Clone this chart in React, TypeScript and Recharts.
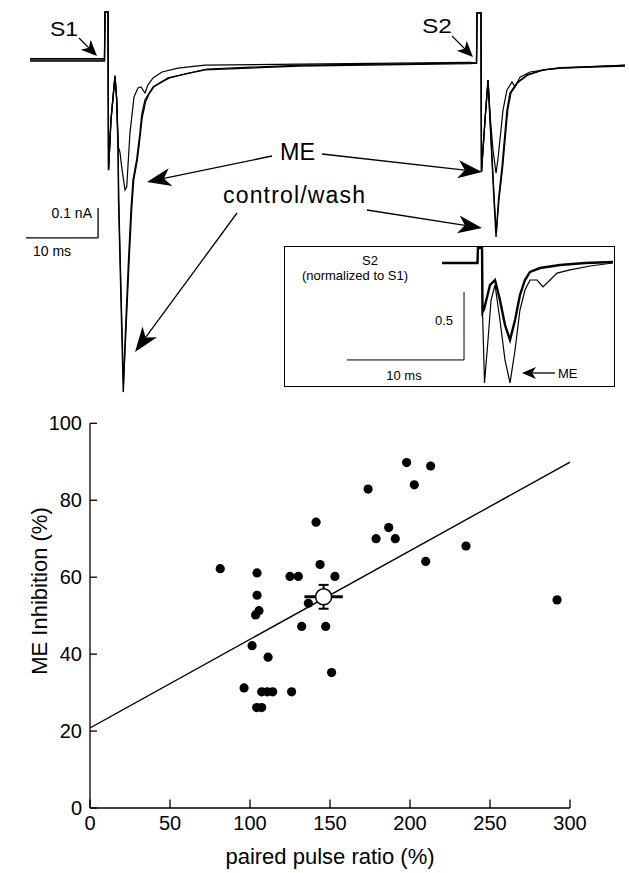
import React from 'react';
import { LineChart, Line, XAxis, YAxis, ReferenceLine, ScatterChart, Scatter, ErrorBar } from 'recharts';

const FONT = "'Liberation Sans', Arial, Helvetica, sans-serif";

// ---- whole-cell current traces, S1 at t = 0 (ms, nA) ----
const controlBase = [[-10.56, 0], [-0.21, 0]];
const washBase = [[-10.56, -0.004], [-0.21, -0.004]];
const meBase = [[-10.56, 0.005], [-0.21, 0.005]];
const s1Artifact = [[-0.14, 0.16], [0.28, 0.16], [0.35, -0.367], [0.69, -0.2], [1.25, -0.053]];
const s2Artifact = [
  [51.46, -0.01], [51.53, 0.157], [52.08, 0.157], [52.15, -0.373], [52.64, -0.2], [53.06, -0.067],
];
const controlS1 = [
  [1.49, -0.133], [1.67, -0.3], [1.74, -0.467], [2.08, -0.8], [2.4, -1.107], [2.71, -0.9], [3.13, -0.667],
  [3.47, -0.5], [3.75, -0.4], [4.26, -0.333], [4.72, -0.243], [4.96, -0.183], [5.42, -0.133], [5.83, -0.117],
  [6.53, -0.09], [8.61, -0.06], [10.97, -0.047], [13.75, -0.033], [26.94, -0.02], [50.56, -0.012],
];
const controlS2 = [
  [53.47, -0.267], [53.89, -0.467], [54.17, -0.59], [54.51, -0.467], [55.0, -0.357], [55.69, -0.167],
  [56.11, -0.11], [57.08, -0.077], [58.47, -0.05], [60.69, -0.033], [63.06, -0.027], [72.08, -0.02],
];
const washS1 = [
  [1.49, -0.133], [1.69, -0.3], [1.78, -0.467], [2.12, -0.8], [2.43, -1.08], [2.78, -0.9], [3.22, -0.667],
  [3.57, -0.5], [3.86, -0.4], [4.36, -0.333], [4.8, -0.243], [5.05, -0.19], [5.5, -0.14], [5.95, -0.115],
  [6.7, -0.088], [8.8, -0.06], [11.2, -0.045], [14.0, -0.03], [27.0, -0.017], [50.56, -0.01],
];
const washS2 = [
  [53.5, -0.267], [53.93, -0.467], [54.22, -0.575], [54.58, -0.467], [55.1, -0.357], [55.8, -0.167],
  [56.25, -0.11], [57.2, -0.075], [58.6, -0.05], [60.8, -0.033], [63.1, -0.025], [72.08, -0.018],
];
const meS1 = [
  [1.49, -0.133], [1.71, -0.29], [1.94, -0.307], [2.18, -0.357], [2.64, -0.433], [2.88, -0.423], [3.1, -0.333],
  [3.33, -0.243], [3.89, -0.123], [4.44, -0.093], [4.86, -0.09], [5.42, -0.11], [5.83, -0.083], [6.53, -0.06],
  [7.78, -0.04], [10.0, -0.027], [13.75, -0.017], [26.94, -0.014], [50.56, -0.008],
];
const meS2 = [
  [53.4, -0.2], [53.75, -0.3], [54.17, -0.377], [54.44, -0.33], [55.14, -0.167], [55.69, -0.1], [56.39, -0.073],
  [56.81, -0.09], [57.5, -0.057], [58.89, -0.04], [60.97, -0.033], [63.06, -0.027], [72.08, -0.017],
];

// ---- inset: S2 normalized to S1 ----
const insetHead = [[-3.16, 0], [-0.13, 0], [-0.09, 0.11], [0.26, 0.11], [0.3, -0.36]];
const insetControl = [
  [0.43, -0.34], [0.94, -0.162], [1.37, -0.125], [1.79, -0.272], [2.22, -0.456], [2.65, -0.566], [3.08, -0.419],
  [3.5, -0.235], [3.93, -0.125], [4.36, -0.066], [5.21, -0.037], [6.92, -0.015], [9.06, 0], [11.45, 0.007],
];
const insetMe = [
  [0.47, -0.882], [0.77, -0.566], [1.03, -0.272], [1.37, -0.162], [1.79, -0.419], [2.22, -0.713], [2.65, -0.882],
  [3.08, -0.64], [3.5, -0.346], [3.93, -0.199], [4.36, -0.125], [4.96, -0.125], [5.47, -0.176], [6.07, -0.125],
  [6.67, -0.074], [7.78, -0.051], [9.49, -0.022], [11.45, 0],
];

// ---- scatter: paired pulse ratio vs ME inhibition ----
const pprValues = [
  81.4, 104.4, 104.4, 105.6, 103.5, 125, 130.2, 141.3, 143.8, 136.5, 132.3, 147.3, 101.3, 111.3, 151, 96.3,
  107.3, 110.8, 114.2, 126, 104.2, 107.3, 197.9, 212.9, 202.7, 173.8, 186.7, 178.8, 190.8, 235, 209.8, 153.1, 291.9,
];
const inhibitionValues = [
  62.2, 61.1, 55.3, 51.3, 50.2, 60.2, 60.2, 74.3, 63.3, 53.2, 47.2, 47.2, 42.2, 39.2, 35.2, 31.2,
  30.2, 30.2, 30.2, 30.2, 26.1, 26.1, 89.8, 88.9, 84, 82.9, 72.9, 70, 70, 68.1, 64.1, 60.2, 54.1,
];
const meanPoint = [{ x: 146, y: 54.9, ex: 12, ey: 3.1 }];
const fitLine = [{ x: 0, y: 20.8 }, { x: 300, y: 89.9 }];
const xTicks = [0, 50, 100, 150, 200, 250, 300];
const yTicks = [0, 20, 40, 60, 80, 100];

const toPts = (arr: number[][]) => arr.map(([t, v]) => ({ t, v }));
const controlTrace = toPts([...controlBase, ...s1Artifact, ...controlS1, ...s2Artifact, ...controlS2]);
const washTrace = toPts([...washBase, ...s1Artifact, ...washS1, ...s2Artifact, ...washS2]);
const meTrace = toPts([...meBase, ...s1Artifact, ...meS1, ...s2Artifact, ...meS2]);
const insetControlTrace = toPts([...insetHead, ...insetControl]);
const insetMeTrace = toPts([...insetHead, ...insetMe]);
const scatterData = pprValues.map((x, i) => ({ x, y: inhibitionValues[i] }));

const Arrow = ({ x1, y1, x2, y2, len = 22, half = 8 }: any) => {
  const d = Math.hypot(x2 - x1, y2 - y1);
  const ux = (x2 - x1) / d;
  const uy = (y2 - y1) / d;
  const bx = x2 - ux * len;
  const by = y2 - uy * len;
  const nx = x2 - ux * len * 0.72;
  const ny = y2 - uy * len * 0.72;
  const pts = [
    [x2, y2],
    [bx - uy * half, by + ux * half],
    [nx, ny],
    [bx + uy * half, by - ux * half],
  ].map((p) => p.join(',')).join(' ');
  return (
    <g>
      <line x1={x1} y1={y1} x2={nx} y2={ny} stroke="#000" strokeWidth={1.3} />
      <polygon points={pts} fill="#000" />
    </g>
  );
};

const Dot = (p: any) => <circle cx={p.cx} cy={p.cy} r={4.6} fill="#000" />;
const OpenDot = (p: any) => <circle cx={p.cx} cy={p.cy} r={8} fill="#fff" stroke="#000" strokeWidth={1.5} />;
const NoShape = () => <g />;

const traceLine = (data: any[], w: number) => (
  <Line
    data={data}
    dataKey="v"
    type="linear"
    stroke="#000"
    strokeWidth={w}
    dot={false}
    activeDot={false}
    legendType="none"
    isAnimationActive={false}
  />
);

export default function App() {
  return (
    <div style={{ position: 'absolute', left: 0, top: 0, width: 629, height: 873, background: '#fff', fontFamily: FONT }}>
      {/* main traces */}
      <div style={{ position: 'absolute', left: 0, top: 0 }}>
        <LineChart width={629} height={420} margin={{ top: 0, right: 0, bottom: 0, left: 0 }}>
          <XAxis type="number" dataKey="t" domain={[-14.722, 72.639]} allowDataOverflow hide />
          <YAxis type="number" dataKey="v" domain={[-1.2, 0.2]} allowDataOverflow hide />
          {traceLine(controlTrace, 1.4)}
          {traceLine(washTrace, 1.2)}
          {traceLine(meTrace, 1.2)}
          {/* scale bars: 10 ms, 0.1 nA */}
          <ReferenceLine segment={[{ x: -11.1, y: -0.593 }, { x: -1.1, y: -0.593 }]} stroke="#000" strokeWidth={1.3} />
          <ReferenceLine segment={[{ x: -1.1, y: -0.593 }, { x: -1.1, y: -0.493 }]} stroke="#000" strokeWidth={1.3} />
        </LineChart>
      </div>

      {/* inset */}
      <div style={{ position: 'absolute', left: 284, top: 246 }}>
        <LineChart width={330} height={141} margin={{ top: 0, right: 0, bottom: 0, left: 0 }}>
          <XAxis type="number" dataKey="t" domain={[-16.667, 11.538]} allowDataOverflow hide />
          <YAxis type="number" dataKey="v" domain={[-0.912, 0.125]} allowDataOverflow hide />
          {traceLine(insetControlTrace, 2.4)}
          {traceLine(insetMeTrace, 1.2)}
          <ReferenceLine segment={[{ x: -11.28, y: -0.713 }, { x: -1.28, y: -0.713 }]} stroke="#000" strokeWidth={1} />
          <ReferenceLine segment={[{ x: -1.28, y: -0.713 }, { x: -1.28, y: -0.213 }]} stroke="#000" strokeWidth={1} />
        </LineChart>
      </div>

      {/* scatter */}
      <div style={{ position: 'absolute', left: 0, top: 400 }}>
        <ScatterChart width={629} height={473} margin={{ top: 23.3, right: 59, bottom: 0, left: 0 }}>
          <XAxis
            type="number"
            dataKey="x"
            domain={[0, 300]}
            ticks={xTicks}
            allowDataOverflow
            height={65}
            tickLine={false}
            tickSize={0}
            tickMargin={8}
            axisLine={{ stroke: '#000', strokeWidth: 1.3 }}
            tick={{ fill: '#000', fontSize: 20, fontFamily: FONT }}
          />
          <YAxis
            type="number"
            dataKey="y"
            domain={[0, 100]}
            ticks={yTicks}
            allowDataOverflow
            width={90}
            tickLine={false}
            tickSize={0}
            tickMargin={8}
            axisLine={{ stroke: '#000', strokeWidth: 1.3 }}
            tick={{ fill: '#000', fontSize: 20, fontFamily: FONT }}
          />
          {yTicks.map((v) => (
            <ReferenceLine key={'y' + v} segment={[{ x: 0, y: v }, { x: 4.4, y: v }]} stroke="#000" strokeWidth={1.3} />
          ))}
          {xTicks.map((v) => (
            <ReferenceLine key={'x' + v} segment={[{ x: v, y: 0 }, { x: v, y: 2.2 }]} stroke="#000" strokeWidth={1.3} />
          ))}
          <Scatter data={fitLine} line={{ stroke: '#000', strokeWidth: 1.4 }} shape={NoShape} isAnimationActive={false} />
          <Scatter data={scatterData} shape={Dot} isAnimationActive={false} />
          <Scatter data={meanPoint} shape={OpenDot} isAnimationActive={false}>
            <ErrorBar dataKey="ex" direction="x" width={0} stroke="#000" strokeWidth={3} isAnimationActive={false} />
            <ErrorBar dataKey="ey" direction="y" width={5} stroke="#000" strokeWidth={2} isAnimationActive={false} />
          </Scatter>
        </ScatterChart>
      </div>

      {/* annotations */}
      <svg width={629} height={873} style={{ position: 'absolute', left: 0, top: 0, pointerEvents: 'none' }} fontFamily={FONT}>
        <text x={50} y={36} fontSize={21} textLength={28} lengthAdjust="spacingAndGlyphs">S1</text>
        <Arrow x1={79} y1={38} x2={97} y2={56} len={16} half={7} />
        <text x={422} y={33} fontSize={21} textLength={30} lengthAdjust="spacingAndGlyphs">S2</text>
        <Arrow x1={452} y1={36} x2={473} y2={57} len={16} half={7} />

        <text x={280} y={160} fontSize={23} textLength={35} lengthAdjust="spacingAndGlyphs">ME</text>
        <Arrow x1={272} y1={156} x2={147} y2={182} len={24} half={9} />
        <Arrow x1={322} y1={154} x2={482} y2={172} len={24} half={9} />

        <text x={223} y={203} fontSize={23} textLength={142} lengthAdjust="spacing">control/wash</text>
        <Arrow x1={237} y1={213} x2={135} y2={352} len={25} half={9} />
        <Arrow x1={367} y1={210} x2={482} y2={228} len={24} half={9} />

        <text x={92} y={218} fontSize={14} textAnchor="end">0.1 nA</text>
        <text x={33} y={256} fontSize={14}>10 ms</text>

        <rect x={284.5} y={246.5} width={330} height={140} fill="none" stroke="#000" strokeWidth={1} />
        <text x={370} y={265} fontSize={13} textAnchor="middle">S2</text>
        <text x={355} y={280} fontSize={13} textAnchor="middle">(normalized to S1)</text>
        <text x={453} y={325} fontSize={13} textAnchor="end">0.5</text>
        <text x={404} y={380} fontSize={13} textAnchor="middle">10 ms</text>
        <text x={558} y={378} fontSize={13}>ME</text>
        <Arrow x1={555} y1={373} x2={522} y2={373} len={14} half={6} />

        <text x={330} y={864} fontSize={22} textAnchor="middle">paired pulse ratio (%)</text>
        <text x={47} y={591} fontSize={22} textAnchor="middle" transform="rotate(-90 47 591)">ME Inhibition (%)</text>
      </svg>
    </div>
  );
}
